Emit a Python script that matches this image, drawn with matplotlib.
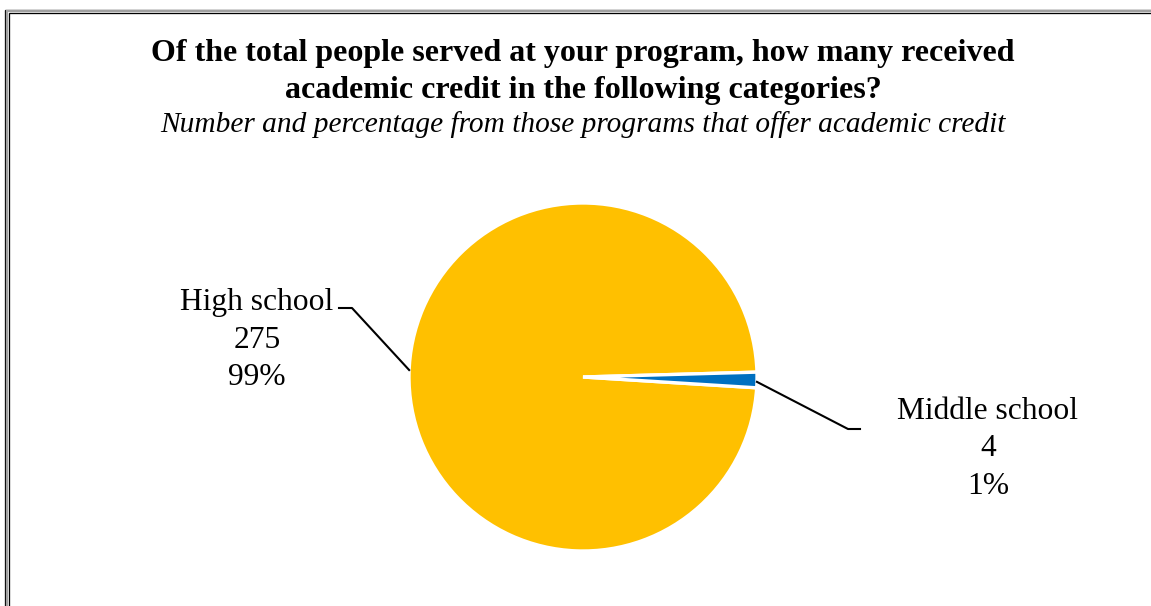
import numpy as np
import matplotlib
matplotlib.use('Agg')
import matplotlib.pyplot as plt
from matplotlib.patches import Rectangle

# data
categories = ['High school', 'Middle school']
counts = [275, 4]
pcts = ['99%', '1%']
colors = ['#FFC000', '#0070C0']

W, H = 1151, 606
fig = plt.figure(figsize=(W / 100, H / 100), dpi=100)
ax = fig.add_axes([0, 0, 1, 1])
ax.set_xlim(0, W); ax.set_ylim(0, H)
ax.axis('off')

serif = ['Liberation Serif', 'DejaVu Serif']

# double frame (cropped at right and bottom)
px = 0.72
for off, lw, col in [(5.5, 1.3, 'black'), (7.2, 2.2, '#a0a0a0'), (8.8, 1.3, 'black')]:
    ax.add_patch(Rectangle((off, -50), W + 100, H - off - 4 + 50, fill=False,
                           ec=col, lw=lw * px))

# title
ax.text(583, 606 - 72, 'Of the total people served at your program, how many received\nacademic credit in the following categories?',
        ha='center', va='center', fontsize=23, fontweight='bold', family=serif,
        linespacing=1.38)
ax.text(583, 606 - 125, 'Number and percentage from those programs that offer academic credit',
        ha='center', va='center', fontsize=21.2, style='italic', family=serif)

# pie
cx, cy, r = 583, 606 - 377, 174
wedges, _ = ax.pie(counts, colors=colors, startangle=1.6, counterclock=True,
                   center=(cx, cy), radius=r, frame=True,
                   wedgeprops=dict(edgecolor='white', linewidth=2.4))
ax.set_xlim(0, W); ax.set_ylim(0, H)
ax.axis('off')

# labels with leader lines
lab_pos = [(257, 606 - 340), (988, 606 - 449)]
elbow = [(352, 606 - 308), (848, 606 - 429)]
tail = [(339, 606 - 308), (860, 606 - 429)]
anchor_ang = [177.7, -1.6]
for i, w in enumerate(wedges):
    a = np.deg2rad(anchor_ang[i])
    px0, py0 = cx + r * np.cos(a), cy + r * np.sin(a)
    ax.plot([px0, elbow[i][0], tail[i][0]], [py0, elbow[i][1], tail[i][1]],
            color='black', lw=1.5)
    ax.text(lab_pos[i][0], lab_pos[i][1], '%s\n%d\n%s' % (categories[i], counts[i], pcts[i]),
            ha='center', va='center', fontsize=22.7, family=serif, linespacing=1.37)

fig.savefig('out.png', dpi=100)
